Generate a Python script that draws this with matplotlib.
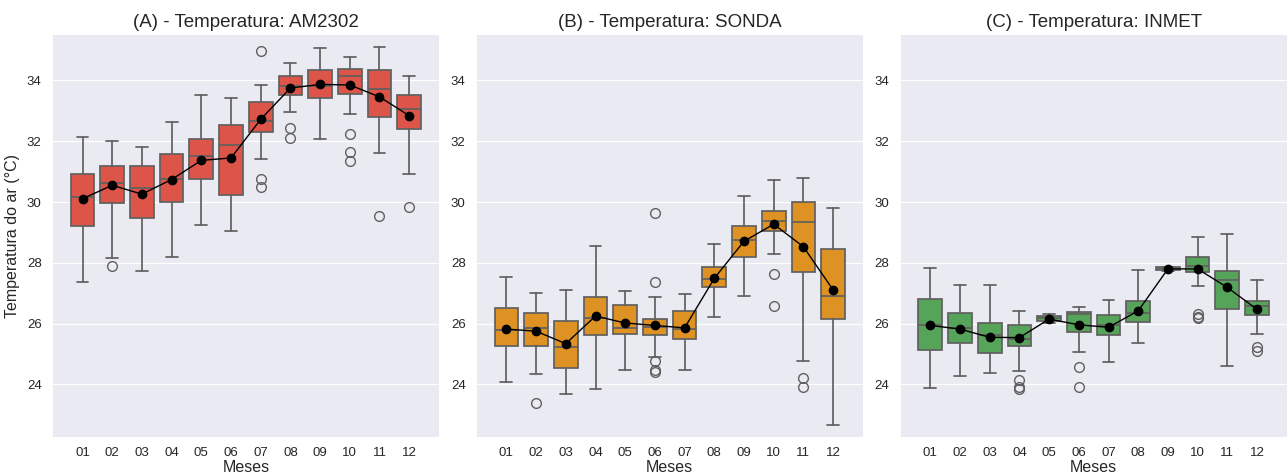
#!/usr/bin/env python3

import matplotlib
matplotlib.use('Agg')
import matplotlib.pyplot as plt

plt.style.use('seaborn-v0_8-darkgrid')
plt.rcParams['font.family'] = ['Liberation Sans', 'DejaVu Sans']

meses = ['01', '02', '03', '04', '05', '06', '07', '08', '09', '10', '11', '12']

# (A) AM2302
a_whislo = [27.38, 28.17, 27.74, 28.19, 29.23, 29.05, 31.42, 32.97, 32.08, 32.91, 31.60, 30.92]
a_q1 = [29.22, 29.98, 29.49, 30.00, 30.77, 30.22, 32.32, 33.53, 33.41, 33.57, 32.80, 32.40]
a_med = [30.17, 30.61, 30.45, 30.75, 31.50, 31.88, 32.65, 33.82, 33.81, 34.13, 33.73, 33.05]
a_q3 = [30.92, 31.19, 31.19, 31.59, 32.08, 32.54, 33.29, 34.15, 34.35, 34.37, 34.35, 33.52]
a_whishi = [32.14, 32.02, 31.80, 32.64, 33.52, 33.42, 33.86, 34.56, 35.07, 34.78, 35.10, 34.14]
a_mean = [30.11, 30.55, 30.26, 30.74, 31.37, 31.45, 32.72, 33.75, 33.87, 33.85, 33.46, 32.84]
a_out = [[], [27.91], [], [], [], [], [30.77, 30.48, 34.98], [32.45, 32.12], [],
         [32.25, 31.63, 31.36], [29.54], [29.83]]

# (B) SONDA
b_whislo = [24.07, 24.35, 23.70, 23.85, 24.48, 24.91, 24.47, 26.21, 26.92, 28.28, 24.77, 22.65]
b_q1 = [25.25, 25.25, 24.55, 25.64, 25.66, 25.63, 25.51, 27.19, 28.20, 29.04, 27.71, 26.14]
b_med = [25.78, 25.86, 25.24, 26.20, 25.86, 25.89, 25.83, 27.48, 28.74, 29.38, 29.35, 26.91]
b_q3 = [26.52, 26.35, 26.09, 26.89, 26.61, 26.14, 26.42, 27.85, 29.22, 29.72, 30.01, 28.47]
b_whishi = [27.55, 27.00, 27.11, 28.55, 27.08, 26.88, 26.97, 28.61, 30.21, 30.72, 30.79, 29.81]
b_mean = [25.82, 25.75, 25.34, 26.25, 26.02, 25.94, 25.86, 27.49, 28.71, 29.27, 28.53, 27.11]
b_out = [[], [23.40], [], [], [], [24.77, 24.49, 24.41, 29.65, 27.37], [], [], [],
         [27.64, 26.58], [24.22, 23.92], []]

# (C) INMET
c_whislo = [23.87, 24.27, 24.36, 24.45, 26.03, 25.05, 24.73, 25.37, 27.74, 27.25, 24.59, 25.67]
c_q1 = [25.12, 25.35, 25.03, 25.26, 26.08, 25.71, 25.63, 26.06, 27.76, 27.70, 26.47, 26.27]
c_med = [25.97, 25.84, 25.62, 25.51, 26.17, 26.32, 25.95, 26.36, 27.80, 27.90, 27.45, 26.59]
c_q3 = [26.81, 26.35, 26.02, 25.97, 26.24, 26.37, 26.29, 26.75, 27.85, 28.19, 27.73, 26.76]
c_whishi = [27.84, 27.27, 27.27, 26.42, 26.30, 26.54, 26.77, 27.75, 27.86, 28.86, 28.96, 27.45]
c_mean = [25.94, 25.82, 25.55, 25.54, 26.15, 25.96, 25.88, 26.42, 27.80, 27.80, 27.19, 26.47]
c_out = [[], [], [], [24.14, 23.92, 23.85], [], [24.58, 23.92], [], [], [],
         [26.31, 26.23, 26.17], [], [25.24, 25.09]]

paineis = [
    ('(A) - Temperatura: AM2302', '#dd5449', a_whislo, a_q1, a_med, a_q3, a_whishi, a_mean, a_out),
    ('(B) - Temperatura: SONDA', '#de9223', b_whislo, b_q1, b_med, b_q3, b_whishi, b_mean, b_out),
    ('(C) - Temperatura: INMET', '#56a35a', c_whislo, c_q1, c_med, c_q3, c_whishi, c_mean, c_out),
]

fig, axes = plt.subplots(1, 3, figsize=(12.88, 4.75), dpi=100)
fig.subplots_adjust(left=0.041, right=0.999, top=0.926, bottom=0.080, wspace=0.098)

edge = '#606060'
pos = list(range(len(meses)))

for ax, (titulo, cor, wlo, q1, med, q3, whi, media, out) in zip(axes, paineis):
    stats = []
    for i in pos:
        stats.append({'whislo': wlo[i], 'q1': q1[i], 'med': med[i], 'q3': q3[i],
                      'whishi': whi[i], 'fliers': out[i]})
    ax.bxp(stats, positions=pos, widths=0.8, patch_artist=True, showfliers=True,
           boxprops=dict(facecolor=cor, edgecolor=edge, linewidth=1.25),
           medianprops=dict(color=edge, linewidth=1.25),
           whiskerprops=dict(color=edge, linewidth=1.25),
           capprops=dict(color=edge, linewidth=1.25),
           capwidths=0.4,
           flierprops=dict(marker='o', markerfacecolor='none', markeredgecolor=edge,
                           markersize=7, markeredgewidth=1))
    ax.plot(pos, media, color='black', linewidth=1, marker='o', markersize=6, zorder=5)

    ax.set_title(titulo, fontsize=13.5)
    ax.set_xlabel('Meses', fontsize=11.5, labelpad=1)
    ax.set_xticks(pos)
    ax.set_xticklabels(meses)
    ax.set_xlim(-1, 12)
    ax.set_ylim(22.27, 35.49)
    ax.set_yticks([24, 26, 28, 30, 32, 34])
    ax.grid(axis='x', visible=False)
    ax.tick_params(axis='both', labelsize=9.5, length=0)
    ax.tick_params(axis='x', pad=7)
    ax.tick_params(axis='y', pad=8)

axes[0].set_ylabel('Temperatura do ar (°C)', fontsize=11.5, labelpad=5)

fig.savefig('out.png', dpi=100)
